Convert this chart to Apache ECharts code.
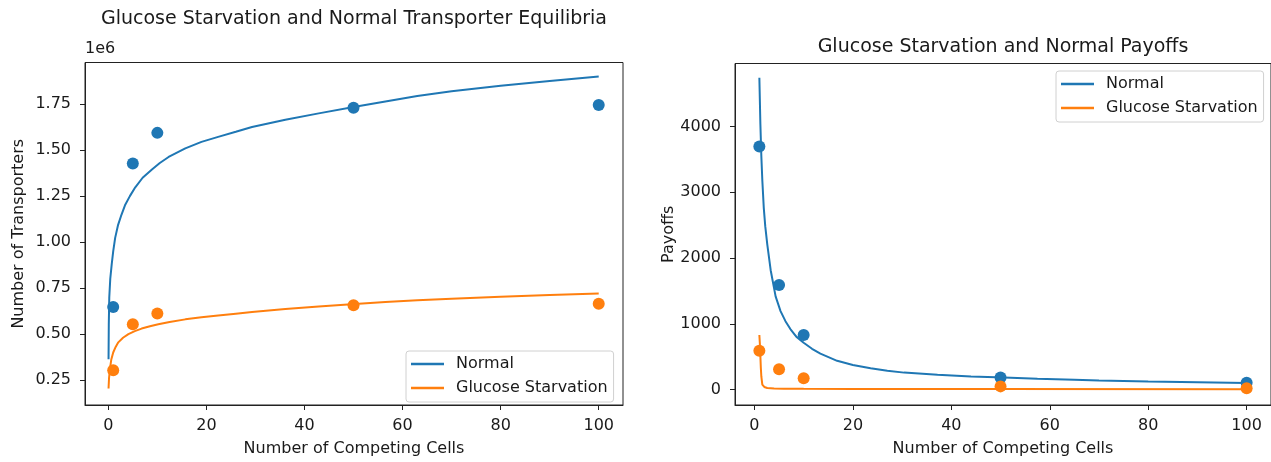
<!DOCTYPE html>
<html>
<head>
<meta charset="utf-8">
<script src="https://cdn.jsdelivr.net/npm/echarts@6/dist/echarts.min.js"></script>
<style>
html,body{margin:0;padding:0;background:#fff;}
#chart{width:1271px;height:462px;}
</style>
</head>
<body>
<div id="chart"></div>
<script>
// ---------- Data ----------
const pointX = [1, 5, 10, 50, 100];

// Left panel: transporter equilibria (absolute numbers)
const transNormalPts = [647000, 1427000, 1594000, 1730000, 1746000];
const transStarvPts  = [303000, 553000, 612000, 657000, 665000];

const transNormalLineX = [0.05,0.1,0.2,0.4,0.7,1.0,1.4,2.0,2.7,3.4,4.4,5.5,7,8.9,10.5,12.3,15.7,19,22.4,26,29.3,36.1,42.9,50.3,56.5,63,70,80,90,100];
const transNormalLineY = [363000,550000,700000,800000,880000,950000,1023000,1094000,1150000,1200000,1250000,1298000,1350000,1395000,1430000,1463000,1510000,1545000,1572000,1600000,1626000,1665000,1700000,1736000,1765000,1795000,1820000,1850000,1876000,1900000];

const transStarvLineX = [0.05,0.15,0.35,0.6,1.0,1.5,2.04,3,4.1,5.4,6.8,8.5,10.2,12.5,15.7,19,22.4,26,29.3,36.1,42.9,50.3,56.5,63,70,80,90,100];
const transStarvLineY = [204000,260000,314000,360000,400000,430000,455000,480000,500000,516000,530000,543000,553000,566000,580000,591000,601000,611000,620000,636000,650000,664000,675000,684000,692000,703000,712000,720000];

// Right panel: payoffs
const payNormalPts = [3693, 1591, 830, 183, 105];
const payStarvPts  = [592, 309, 174, 49, 22];

const payNormalLineX = [1,1.2,1.4,1.6,1.9,2.2,2.6,3.3,4.3,5.3,6.3,7.3,8.5,10,11.7,13.4,16.8,20,23.6,27,30.4,37.2,44,50.7,57.5,65,70,80,90,100];
const payNormalLineY = [4737,4050,3550,3180,2758,2480,2211,1814,1416,1193,1040,920,805,711,620,547,437,375,323,285,258,224,199,183,164,148,137,122,111,101];

const payStarvLineX = [1,1.1,1.2,1.3,1.4,1.6,2,2.6,4,6,10,20,50,100];
const payStarvLineY = [830,700,520,330,200,75,40,25,18,14,12,10,8,6];

// Tick labels
const xTicks = [0, 20, 40, 60, 80, 100];
const transTicks = [250000, 500000, 750000, 1000000, 1250000, 1500000, 1750000];
const payTicks = [0, 1000, 2000, 3000, 4000];

const seriesNames = ['Normal', 'Glucose Starvation'];
const titles = ['Glucose Starvation and Normal Transporter Equilibria', 'Glucose Starvation and Normal Payoffs'];
const xName = 'Number of Competing Cells';
const yNames = ['Number of Transporters', 'Payoffs'];
const offsetText = '1e6';

// ---------- Chart ----------
const BLUE = '#1f77b4', ORANGE = '#ff7f0e';
const FONT = 'DejaVu Sans';
const TXT = '#1a1a1a';
const zip = (xs, ys) => xs.map((x, i) => [x, ys[i]]);

const G = [
  {left: 85, top: 62.5, width: 538, height: 349.5},
  {left: 735, top: 63.5, width: 536, height: 348.5}
];

function xAxis(idx, min, max) {
  return {
    type: 'value', gridIndex: idx, min: min, max: max,
    name: xName, nameLocation: 'middle', nameGap: 36,
    nameTextStyle: {fontFamily: FONT, fontSize: 16, color: TXT},
    axisLine: {show: true, onZero: false, lineStyle: {color: '#222', width: 1}},
    axisTick: {show: true, length: 5, lineStyle: {color: '#222'}, customValues: xTicks},
    axisLabel: {fontFamily: FONT, fontSize: 16, color: TXT, margin: 13, customValues: xTicks},
    splitLine: {show: false}
  };
}
function yAxis(idx, min, max, ticks, fmt, gap) {
  return {
    type: 'value', gridIndex: idx, min: min, max: max,
    name: yNames[idx], nameLocation: 'middle', nameGap: gap, nameRotate: 90,
    nameTextStyle: {fontFamily: FONT, fontSize: 16, color: TXT},
    axisLine: {show: true, onZero: false, lineStyle: {color: '#222', width: 1}},
    axisTick: {show: true, length: 5, lineStyle: {color: '#222'}, customValues: ticks},
    axisLabel: {fontFamily: FONT, fontSize: 16, color: TXT, margin: 14, customValues: ticks, formatter: fmt},
    splitLine: {show: false}
  };
}
function lineS(name, xi, data, color) {
  return {type: 'line', name: name, xAxisIndex: xi, yAxisIndex: xi, data: data,
    showSymbol: false, symbol: 'none', smooth: false, lineStyle: {color: color, width: 2}, itemStyle: {color: color},
    animation: false, z: 2};
}
function scatS(name, xi, data, color) {
  return {type: 'scatter', name: name, xAxisIndex: xi, yAxisIndex: xi, data: data,
    symbolSize: 12, itemStyle: {color: color, opacity: 1}, animation: false, z: 3};
}
function legend(idx, left, top) {
  return {
    show: true, orient: 'vertical', left: left, top: top,
    data: seriesNames.map(n => ({name: n, icon: 'rect'})),
    itemWidth: 33, itemHeight: 2.5, itemGap: 8,
    padding: [5, 6, 6, 5],
    backgroundColor: 'rgba(255,255,255,0.8)', borderColor: '#d0d0d0', borderWidth: 1, borderRadius: 3,
    textStyle: {fontFamily: FONT, fontSize: 16, color: TXT, padding: [0, 0, 0, 7]},
    selectedMode: false
  };
}

const chart = echarts.init(document.getElementById('chart'), null, {renderer: 'canvas'});
chart.setOption({
  backgroundColor: '#fff',
  animation: false,
  title: [
    {text: titles[0], left: 354, top: 10, textAlign: 'center', padding: 0,
     textStyle: {fontFamily: FONT, fontSize: 19, fontWeight: 'normal', color: TXT}},
    {text: titles[1], left: 1003, top: 38, textAlign: 'center', padding: 0,
     textStyle: {fontFamily: FONT, fontSize: 19, fontWeight: 'normal', color: TXT}},
    {text: offsetText, left: 85, top: 41, padding: 0,
     textStyle: {fontFamily: FONT, fontSize: 16, fontWeight: 'normal', color: TXT}}
  ],
  grid: G.map(g => Object.assign({show: true, borderColor: '#222', borderWidth: 1, backgroundColor: 'transparent'}, g)),
  legend: [legend(0, 406, 351), legend(1, 1056, 71)],
  xAxis: [xAxis(0, -4.75, 104.95), xAxis(1, -3.95, 104.95)],
  yAxis: [
    yAxis(0, 114400, 1976600, transTicks, v => (v / 1e6).toFixed(2), 58),
    yAxis(1, -234, 4955, payTicks, v => String(v), 57)
  ],
  series: [
    lineS(seriesNames[0], 0, zip(transNormalLineX, transNormalLineY), BLUE),
    lineS(seriesNames[1], 0, zip(transStarvLineX, transStarvLineY), ORANGE),
    scatS('Normal data', 0, zip(pointX, transNormalPts), BLUE),
    scatS('Glucose Starvation data', 0, zip(pointX, transStarvPts), ORANGE),
    lineS(seriesNames[0], 1, zip(payNormalLineX, payNormalLineY), BLUE),
    lineS(seriesNames[1], 1, zip(payStarvLineX, payStarvLineY), ORANGE),
    scatS('Normal data', 1, zip(pointX, payNormalPts), BLUE),
    scatS('Glucose Starvation data', 1, zip(pointX, payStarvPts), ORANGE)
  ]
});
</script>
</body>
</html>
